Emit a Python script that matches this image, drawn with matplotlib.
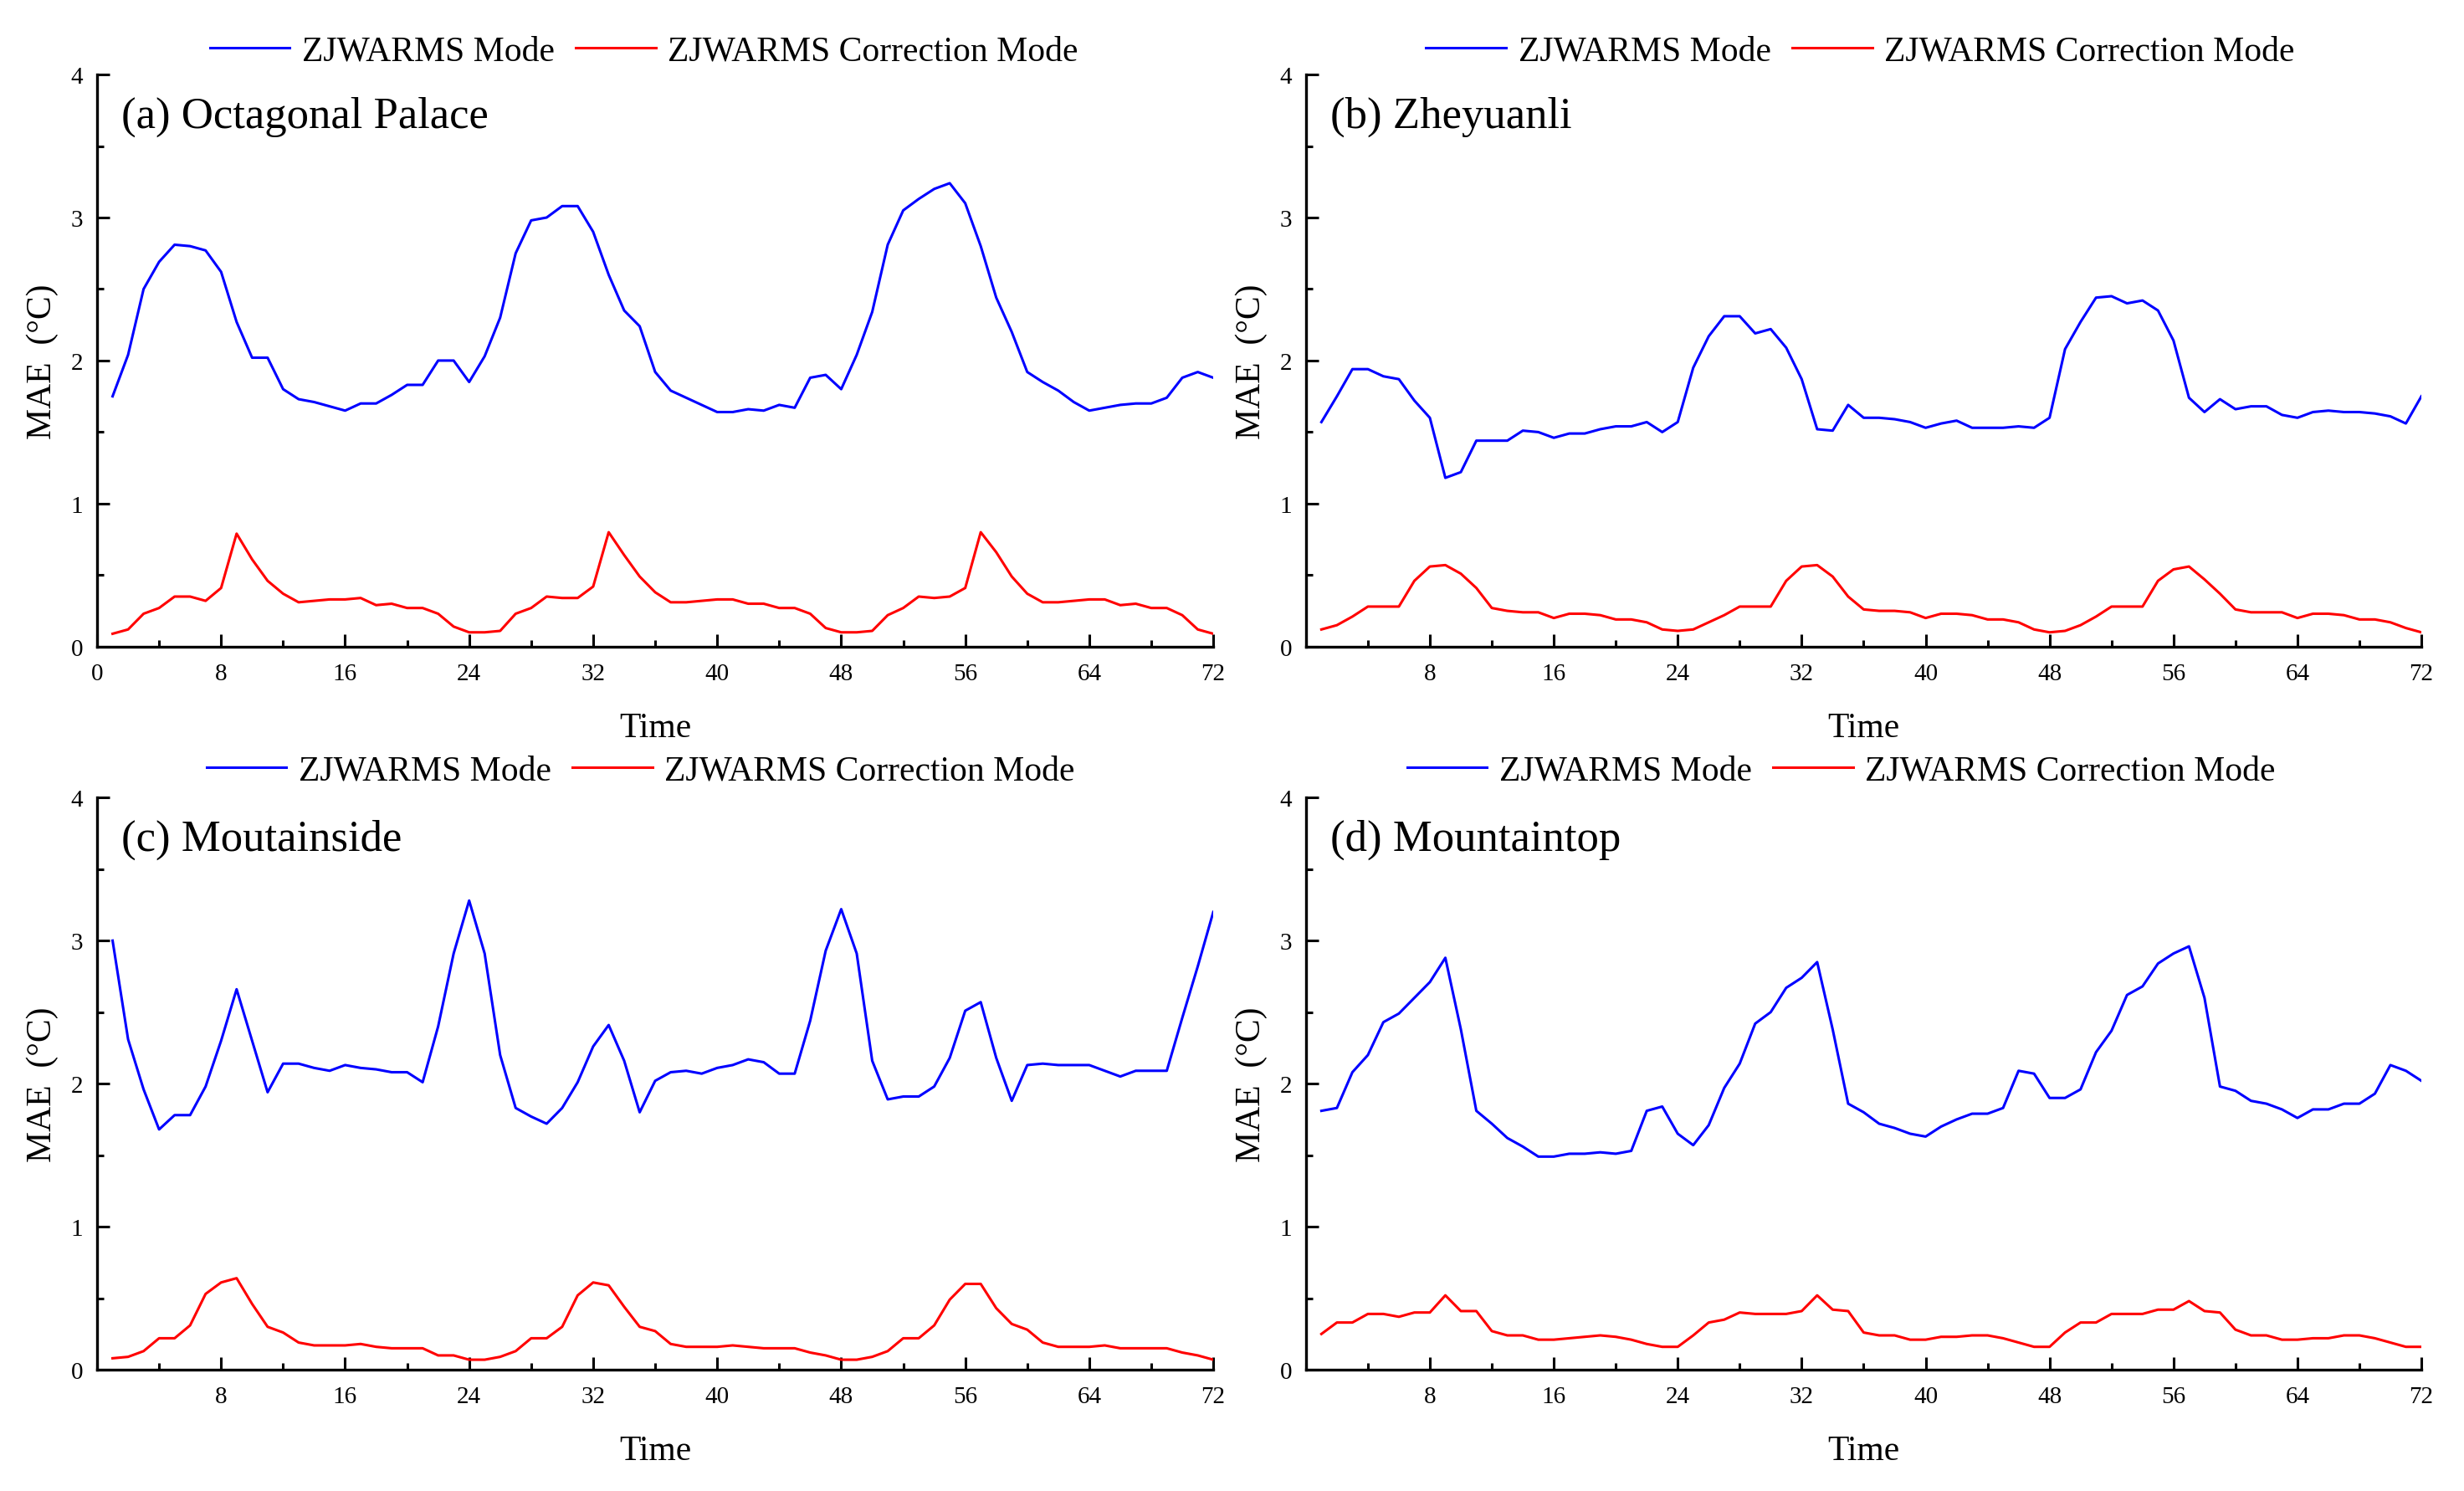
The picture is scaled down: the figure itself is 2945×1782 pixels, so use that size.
import numpy as np
import matplotlib
matplotlib.use("Agg")
import matplotlib.pyplot as plt
from matplotlib.ticker import MultipleLocator

plt.rcParams["font.family"] = ["Liberation Serif", "DejaVu Serif"]
plt.rcParams["axes.unicode_minus"] = False

hours = np.arange(1, 73)

# (a) Octagonal Palace
a_model = [1.75, 2.04, 2.50, 2.69, 2.81, 2.80, 2.77, 2.62, 2.27, 2.02, 2.02, 1.80,
           1.73, 1.71, 1.68, 1.65, 1.70, 1.70, 1.76, 1.83, 1.83, 2.00, 2.00, 1.85,
           2.03, 2.30, 2.75, 2.98, 3.00, 3.08, 3.08, 2.90, 2.60, 2.35, 2.24, 1.92,
           1.79, 1.74, 1.69, 1.64, 1.64, 1.66, 1.65, 1.69, 1.67, 1.88, 1.90, 1.80,
           2.04, 2.34, 2.81, 3.05, 3.13, 3.20, 3.24, 3.10, 2.80, 2.44, 2.20, 1.92,
           1.85, 1.79, 1.71, 1.65, 1.67, 1.69, 1.70, 1.70, 1.74, 1.88, 1.92, 1.88]
a_corr = [0.09, 0.12, 0.23, 0.27, 0.35, 0.35, 0.32, 0.41, 0.79, 0.61, 0.46, 0.37,
          0.31, 0.32, 0.33, 0.33, 0.34, 0.29, 0.30, 0.27, 0.27, 0.23, 0.14, 0.10,
          0.10, 0.11, 0.23, 0.27, 0.35, 0.34, 0.34, 0.42, 0.80, 0.64, 0.49, 0.38,
          0.31, 0.31, 0.32, 0.33, 0.33, 0.30, 0.30, 0.27, 0.27, 0.23, 0.13, 0.10,
          0.10, 0.11, 0.22, 0.27, 0.35, 0.34, 0.35, 0.41, 0.80, 0.66, 0.49, 0.37,
          0.31, 0.31, 0.32, 0.33, 0.33, 0.29, 0.30, 0.27, 0.27, 0.22, 0.12, 0.09]

# (b) Zheyuanli
b_model = [1.57, 1.75, 1.94, 1.94, 1.89, 1.87, 1.72, 1.60, 1.18, 1.22, 1.44, 1.44,
           1.44, 1.51, 1.50, 1.46, 1.49, 1.49, 1.52, 1.54, 1.54, 1.57, 1.50, 1.57,
           1.95, 2.17, 2.31, 2.31, 2.19, 2.22, 2.09, 1.87, 1.52, 1.51, 1.69, 1.60,
           1.60, 1.59, 1.57, 1.53, 1.56, 1.58, 1.53, 1.53, 1.53, 1.54, 1.53, 1.60,
           2.08, 2.27, 2.44, 2.45, 2.40, 2.42, 2.35, 2.14, 1.74, 1.64, 1.73, 1.66,
           1.68, 1.68, 1.62, 1.60, 1.64, 1.65, 1.64, 1.64, 1.63, 1.61, 1.56, 1.75]
b_corr = [0.12, 0.15, 0.21, 0.28, 0.28, 0.28, 0.46, 0.56, 0.57, 0.51, 0.41, 0.27,
          0.25, 0.24, 0.24, 0.20, 0.23, 0.23, 0.22, 0.19, 0.19, 0.17, 0.12, 0.11,
          0.12, 0.17, 0.22, 0.28, 0.28, 0.28, 0.46, 0.56, 0.57, 0.49, 0.35, 0.26,
          0.25, 0.25, 0.24, 0.20, 0.23, 0.23, 0.22, 0.19, 0.19, 0.17, 0.12, 0.10,
          0.11, 0.15, 0.21, 0.28, 0.28, 0.28, 0.46, 0.54, 0.56, 0.47, 0.37, 0.26,
          0.24, 0.24, 0.24, 0.20, 0.23, 0.23, 0.22, 0.19, 0.19, 0.17, 0.13, 0.10]

# (c) Moutainside
c_model = [3.00, 2.31, 1.96, 1.68, 1.78, 1.78, 1.98, 2.30, 2.66, 2.30, 1.94, 2.14,
           2.14, 2.11, 2.09, 2.13, 2.11, 2.10, 2.08, 2.08, 2.01, 2.40, 2.91, 3.28,
           2.91, 2.20, 1.83, 1.77, 1.72, 1.83, 2.01, 2.26, 2.41, 2.16, 1.80, 2.02,
           2.08, 2.09, 2.07, 2.11, 2.13, 2.17, 2.15, 2.07, 2.07, 2.44, 2.93, 3.22,
           2.91, 2.16, 1.89, 1.91, 1.91, 1.98, 2.18, 2.51, 2.57, 2.18, 1.88, 2.13,
           2.14, 2.13, 2.13, 2.13, 2.09, 2.05, 2.09, 2.09, 2.09, 2.46, 2.82, 3.20]
c_corr = [0.08, 0.09, 0.13, 0.22, 0.22, 0.31, 0.53, 0.61, 0.64, 0.46, 0.30, 0.26,
          0.19, 0.17, 0.17, 0.17, 0.18, 0.16, 0.15, 0.15, 0.15, 0.10, 0.10, 0.07,
          0.07, 0.09, 0.13, 0.22, 0.22, 0.30, 0.52, 0.61, 0.59, 0.44, 0.30, 0.27,
          0.18, 0.16, 0.16, 0.16, 0.17, 0.16, 0.15, 0.15, 0.15, 0.12, 0.10, 0.07,
          0.07, 0.09, 0.13, 0.22, 0.22, 0.31, 0.49, 0.60, 0.60, 0.43, 0.32, 0.28,
          0.19, 0.16, 0.16, 0.16, 0.17, 0.15, 0.15, 0.15, 0.15, 0.12, 0.10, 0.07]

# (d) Mountaintop
d_model = [1.81, 1.83, 2.08, 2.20, 2.43, 2.49, 2.60, 2.71, 2.88, 2.38, 1.81, 1.72,
           1.62, 1.56, 1.49, 1.49, 1.51, 1.51, 1.52, 1.51, 1.53, 1.81, 1.84, 1.65,
           1.57, 1.71, 1.97, 2.14, 2.42, 2.50, 2.67, 2.74, 2.85, 2.38, 1.86, 1.80,
           1.72, 1.69, 1.65, 1.63, 1.70, 1.75, 1.79, 1.79, 1.83, 2.09, 2.07, 1.90,
           1.90, 1.96, 2.22, 2.37, 2.62, 2.68, 2.84, 2.91, 2.96, 2.60, 1.98, 1.95,
           1.88, 1.86, 1.82, 1.76, 1.82, 1.82, 1.86, 1.86, 1.93, 2.13, 2.09, 2.02]
d_corr = [0.25, 0.33, 0.33, 0.39, 0.39, 0.37, 0.40, 0.40, 0.52, 0.41, 0.41, 0.27,
          0.24, 0.24, 0.21, 0.21, 0.22, 0.23, 0.24, 0.23, 0.21, 0.18, 0.16, 0.16,
          0.24, 0.33, 0.35, 0.40, 0.39, 0.39, 0.39, 0.41, 0.52, 0.42, 0.41, 0.26,
          0.24, 0.24, 0.21, 0.21, 0.23, 0.23, 0.24, 0.24, 0.22, 0.19, 0.16, 0.16,
          0.26, 0.33, 0.33, 0.39, 0.39, 0.39, 0.42, 0.42, 0.48, 0.41, 0.40, 0.28,
          0.24, 0.24, 0.21, 0.21, 0.22, 0.22, 0.24, 0.24, 0.22, 0.19, 0.16, 0.16]

titles = ["(a) Octagonal Palace", "(b) Zheyuanli", "(c) Moutainside", "(d) Mountaintop"]
models = [a_model, b_model, c_model, d_model]
corrs = [a_corr, b_corr, c_corr, d_corr]
legend_labels = ["ZJWARMS Mode", "ZJWARMS Correction Mode"]

# axes rectangles (left, bottom, width, height) in figure fractions
rects = [(0.0394, 0.566, 0.4530, 0.3835),
         (0.5300, 0.566, 0.4527, 0.3835),
         (0.0394, 0.0813, 0.4530, 0.3835),
         (0.5300, 0.0813, 0.4527, 0.3835)]
leg_anchor = [(0.49, 1.041), (0.497, 1.041), (0.487, 1.047), (0.48, 1.047)]

fig = plt.figure(figsize=(29.45, 17.83), dpi=100)
for k in range(4):
    ax = fig.add_axes(rects[k])
    ax.plot(hours, models[k], color="#0000ff", lw=2.2, label=legend_labels[0])
    ax.plot(hours, corrs[k], color="#ff0000", lw=2.2, label=legend_labels[1])
    ax.set_xlim(0, 72)
    ax.set_ylim(0, 4)
    ax.xaxis.set_major_locator(MultipleLocator(8))
    ax.xaxis.set_minor_locator(MultipleLocator(4))
    ax.yaxis.set_major_locator(MultipleLocator(1))
    ax.yaxis.set_minor_locator(MultipleLocator(0.5))
    ax.tick_params(which="both", direction="in", width=2.2, labelsize=21)
    ax.tick_params(which="major", length=11)
    ax.tick_params(which="minor", length=6)
    ax.tick_params(axis="x", which="major", pad=14)
    ax.tick_params(axis="y", which="major", pad=12)
    for s in ["top", "right"]:
        ax.spines[s].set_visible(False)
    for s in ["left", "bottom"]:
        ax.spines[s].set_linewidth(2.4)
    if k > 0:
        ticks = np.arange(8, 73, 8)
        ax.set_xticks(ticks)
        ax.set_xticklabels([str(t) for t in ticks])
    ax.set_xlabel("Time", fontsize=30, va="center")
    ax.xaxis.set_label_coords(0.5, -0.142)
    ax.set_ylabel("MAE  (°C)", fontsize=30, va="center")
    ax.yaxis.set_label_coords(-0.049, 0.5)
    ax.text(0.022, 0.927, titles[k], transform=ax.transAxes, fontsize=38,
            ha="left", va="center")
    ax.legend(loc="center", bbox_to_anchor=leg_anchor[k], ncol=2, frameon=False,
              fontsize=30, handlelength=2.3, handletextpad=0.35,
              columnspacing=0.6, borderaxespad=0)

fig.savefig("out.png", dpi=100)
